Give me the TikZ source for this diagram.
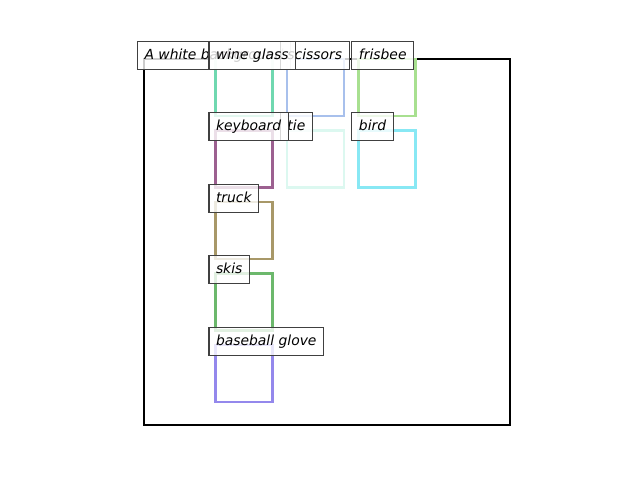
\documentclass[tikz,border=0pt]{standalone}
\usepackage{fontspec}
\setmainfont{DejaVu Sans}
\definecolor{wineglass}{HTML}{70D8B0}
\definecolor{scissors}{HTML}{A8C0EC}
\definecolor{frisbee}{HTML}{A8E090}
\definecolor{keyboard}{HTML}{9C6090}
\definecolor{tie}{HTML}{DCF8F0}
\definecolor{bird}{HTML}{88E8F4}
\definecolor{truck}{HTML}{A89868}
\definecolor{skis}{HTML}{6CB86C}
\definecolor{glove}{HTML}{9488EC}
\tikzset{
  objbox/.style={line width=1.8pt},
  tag/.style={draw=black!75, line width=0.75pt, fill=white, fill opacity=0.8,
    text opacity=1, font=\itshape, anchor=south west, inner xsep=5.04pt,
    inner ysep=3pt, text height=9.96pt, text depth=4.2pt,
    xshift=-5.04pt, yshift=-7.9pt}
}
\begin{document}
\begin{tikzpicture}[x=0.51466pt,y=-0.51466pt]
\useasboundingbox (-201.45,-82.54) rectangle (693.9,588.97);
% image frame
\draw[line width=1.5pt] (0,0) rectangle (512,512);
% object boxes
\draw[objbox,wineglass] (100,0) rectangle (180,80);
\draw[objbox,scissors] (200,0) rectangle (280,80);
\draw[objbox,frisbee] (300,0) rectangle (380,80);
\draw[objbox,keyboard] (100,100) rectangle (180,180);
\draw[objbox,tie] (200,100) rectangle (280,180);
\draw[objbox,bird] (300,100) rectangle (380,180);
\draw[objbox,truck] (100,200) rectangle (180,280);
\draw[objbox,skis] (100,300) rectangle (180,380);
\draw[objbox,glove] (100,400) rectangle (180,480);
% labels
\node[tag] (caption) at (0,0) {A white background};
\node[tag] (lscissors) at (200,0) {scissors};
\node[tag] (lwineglass) at (100,0) {wine glass};
\node[tag] (lfrisbee) at (300,0) {frisbee};
\node[tag] (ltie) at (200,100) {tie};
\node[tag] (lkeyboard) at (100,100) {keyboard};
\node[tag] (lbird) at (300,100) {bird};
\node[tag] (ltruck) at (100,200) {truck};
\node[tag] (lskis) at (100,300) {skis};
\node[tag] (lglove) at (100,400) {baseball glove};
\end{tikzpicture}
\end{document}
